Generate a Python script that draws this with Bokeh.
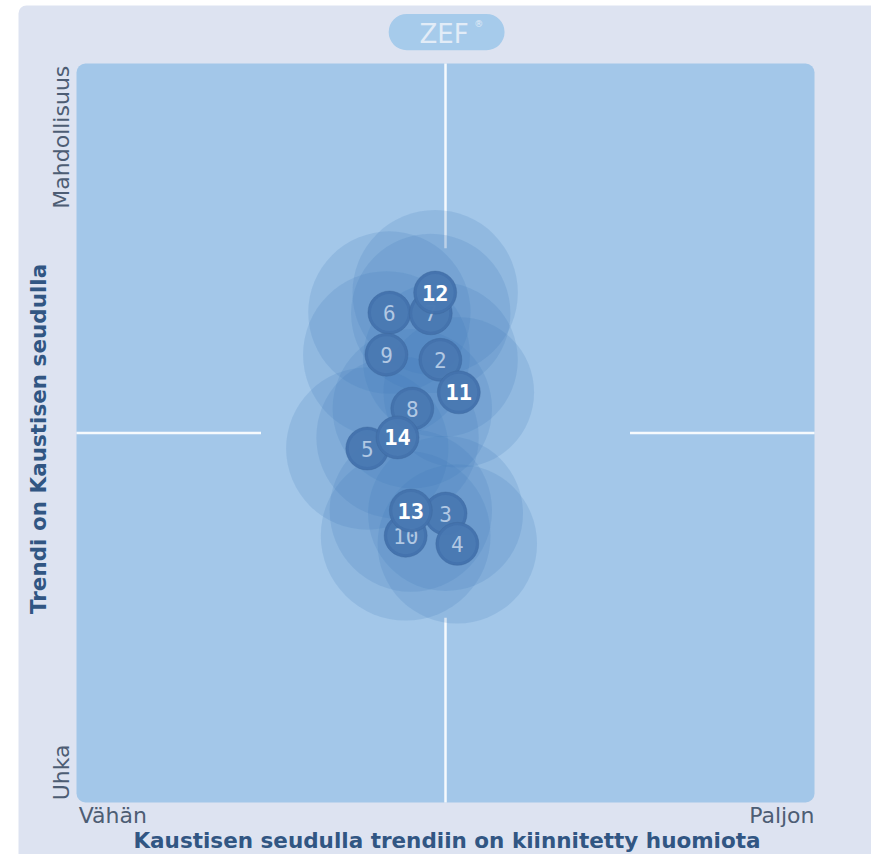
import math
from bokeh.plotting import figure
from bokeh.models import ColumnDataSource, BoxAnnotation, Label
from bokeh.core.properties import value
from bokeh.embed import file_html
from bokeh.resources import INLINE

# ---- data ----
ids = [2, 3, 4, 5, 6, 7, 8, 9, 10, 11, 12, 13, 14]
x_vals = [49.3, 50.0, 51.6, 39.4, 42.4, 48.0, 45.5, 42.0, 44.6, 51.8, 48.6, 45.3, 43.5]
y_vals = [59.9, 39.1, 35.0, 47.9, 66.3, 66.2, 53.3, 60.6, 36.1, 55.5, 69.0, 39.5, 49.4]
spread = [10.5, 10.5, 10.8, 11.0, 11.0, 10.8, 10.8, 11.3, 11.5, 10.2, 11.2, 11.0, 11.0]
highlight_from = 11

x_label = "Kaustisen seudulla trendiin on kiinnitetty huomiota"
y_label = "Trendi on Kaustisen seudulla"
x_low, x_high = "Vähän", "Paljon"
y_low, y_high = "Uhka", "Mahdollisuus"

labels = [str(i) for i in ids]
src_all = ColumnDataSource(dict(x=x_vals, y=y_vals, r=spread, lab=labels))

W, H = 871, 854
p = figure(width=W, height=H, x_range=(-10.298, 107.72), y_range=(-7.037, 108.525),
           output_backend="svg", toolbar_location=None, min_border=0)
p.axis.visible = False
p.grid.visible = False
p.outline_line_color = None
p.background_fill_color = "white"
p.border_fill_color = "white"

# outer panel
p.add_layout(BoxAnnotation(left=-7.86, right=130, bottom=-30, top=107.85,
                           fill_color="#dde3f1", fill_alpha=1, line_color=None,
                           border_radius=8, level="underlay"))
# plot area
p.add_layout(BoxAnnotation(left=0, right=100, bottom=0, top=100,
                           fill_color="#a3c7e9", fill_alpha=1, line_color=None,
                           border_radius=9, level="underlay"))
# ZEF pill
p.add_layout(BoxAnnotation(left=42.3, right=58.0, bottom=101.8, top=106.7,
                           fill_color="#a6cbeb", fill_alpha=1, line_color=None,
                           border_radius=18, level="underlay"))

# quadrant lines
p.segment(x0=[0, 75, 50, 50], y0=[50, 50, 0, 75], x1=[25, 100, 50, 50], y1=[50, 50, 25, 100],
          line_color="white", line_width=2.5, line_alpha=0.9)

# spread circles
p.circle(x="x", y="y", radius="r", source=src_all, fill_color="#3c74b5",
         fill_alpha=0.17, line_color=None)

# bubbles with their numbers, drawn one after the other
for k, i in enumerate(ids):
    s = ColumnDataSource(dict(x=[x_vals[k]], y=[y_vals[k]], lab=[labels[k]]))
    p.scatter(x="x", y="y", source=s, size=43, marker="circle",
              fill_color="#4372ac", fill_alpha=0.97, line_color="#3d679c", line_alpha=0.4)
    p.scatter(x="x", y="y", source=s, size=37, marker="circle",
              fill_color="#5282bb", fill_alpha=0.45, line_color=None)
    if i >= highlight_from:
        p.text(x="x", y="y", text="lab", source=s, text_align="center", text_baseline="middle",
               text_font=value("DejaVu Sans Mono"), text_font_size="22px",
               text_font_style="bold", text_color="#ffffff")
    else:
        p.text(x="x", y="y", text="lab", source=s, text_align="center", text_baseline="middle",
               text_font=value("DejaVu Sans Mono"), text_font_size="21px",
               text_color="#b1c8e3")

reg = dict(text_font="DejaVu Sans", text_font_size="22px", text_color="#4d5d74")
bold = dict(text_font="DejaVu Sans", text_font_size="21.5px", text_font_style="bold",
            text_color="#315683")

p.add_layout(Label(x=-2.1, y=99.7, text=y_high, angle=math.pi / 2, text_align="right",
                   text_baseline="middle", **reg))
p.add_layout(Label(x=-2.1, y=0.3, text=y_low, angle=math.pi / 2, text_align="left",
                   text_baseline="middle", **reg))
p.add_layout(Label(x=-5.1, y=49.2, text=y_label, angle=math.pi / 2, text_align="center",
                   text_baseline="middle", **bold))
p.add_layout(Label(x=0.3, y=-1.75, text=x_low, text_align="left", text_baseline="middle", **reg))
p.add_layout(Label(x=100, y=-1.75, text=x_high, text_align="right", text_baseline="middle", **reg))
p.add_layout(Label(x=50.2, y=-5.1, text=x_label, text_align="center", text_baseline="middle", **bold))

# ZEF logo text
p.add_layout(Label(x=49.8, y=104.0, text="ZEF", text_align="center", text_baseline="middle",
                   text_font="DejaVu Sans", text_font_size="26px", text_color="#e2ecf7"))
p.add_layout(Label(x=54.5, y=105.3, text="®", text_align="center", text_baseline="middle",
                   text_font="DejaVu Sans", text_font_size="9px", text_color="#e2ecf7"))

open("out.html", "w").write(file_html(p, INLINE))
